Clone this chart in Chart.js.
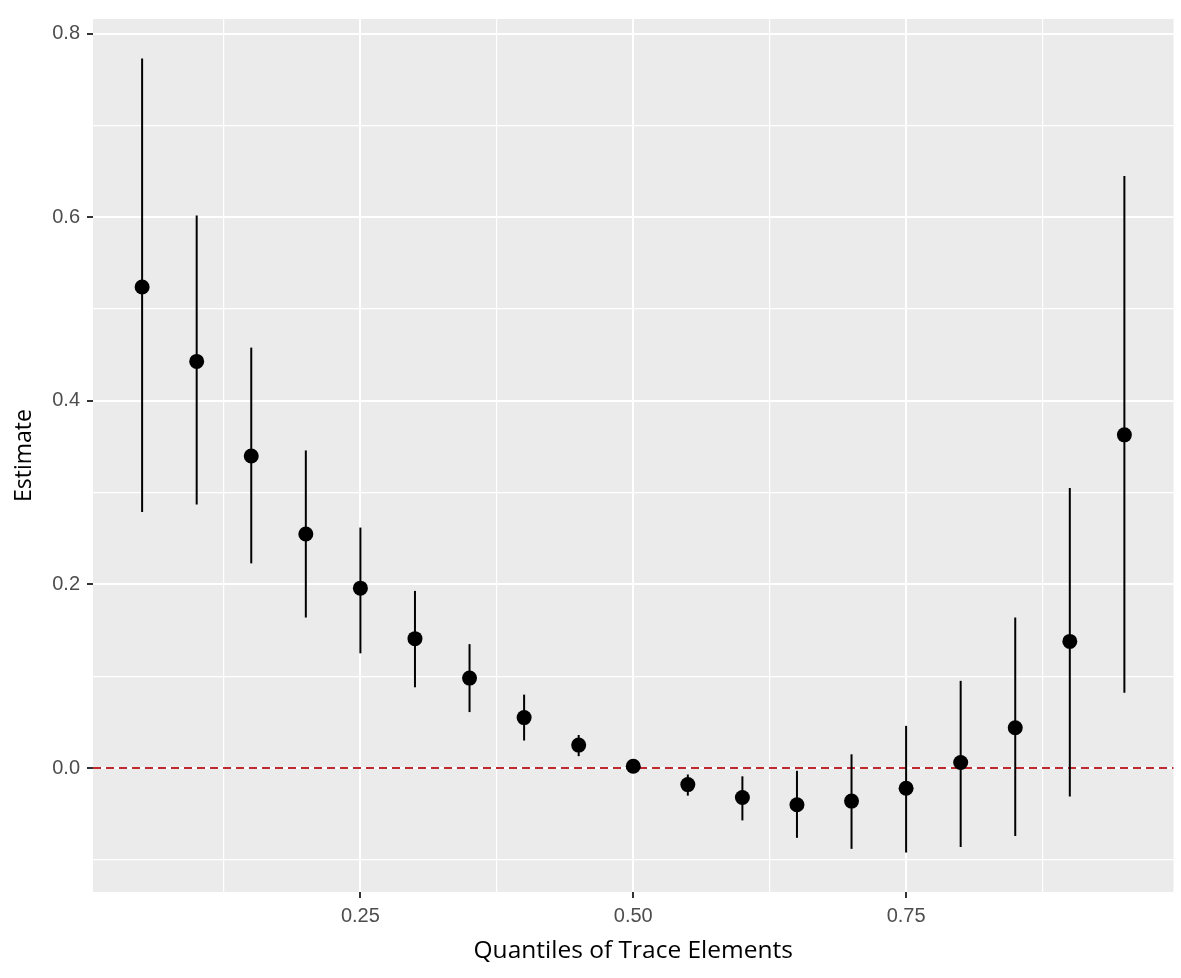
<!DOCTYPE html>
<html>
<head>
<meta charset="utf-8">
<script src="https://cdn.jsdelivr.net/npm/chart.js@4/dist/chart.umd.min.js"></script>
<style>
  body { margin: 0; background: #fff; }
  canvas { display: block; }
</style>
</head>
<body>
<canvas id="chart" width="1181" height="978"></canvas>
<script>
// quantile positions on the x axis
const quantiles = [0.05, 0.10, 0.15, 0.20, 0.25, 0.30, 0.35, 0.40, 0.45, 0.50,
                   0.55, 0.60, 0.65, 0.70, 0.75, 0.80, 0.85, 0.90, 0.95];
// point estimates
const estimate = [0.524, 0.443, 0.340, 0.255, 0.196, 0.141, 0.098, 0.055, 0.025, 0.002,
                  -0.018, -0.032, -0.040, -0.036, -0.022, 0.006, 0.044, 0.138, 0.363];
// confidence interval bounds
const lower = [0.279, 0.287, 0.223, 0.164, 0.125, 0.088, 0.061, 0.030, 0.013, -0.005,
               -0.030, -0.057, -0.076, -0.088, -0.092, -0.086, -0.074, -0.031, 0.082];
const upper = [0.773, 0.602, 0.458, 0.346, 0.262, 0.193, 0.135, 0.080, 0.036, 0.007,
               -0.007, -0.009, -0.003, 0.015, 0.046, 0.095, 0.164, 0.305, 0.645];

// axis ticks (major ones get labels, the rest are minor grid lines)
const xTicks = [0.125, 0.25, 0.375, 0.50, 0.625, 0.75, 0.875];
const xLabels = [0.25, 0.50, 0.75];
const yTicks = [-0.1, 0.0, 0.1, 0.2, 0.3, 0.4, 0.5, 0.6, 0.7, 0.8];
const yLabels = [0.0, 0.2, 0.4, 0.6, 0.8];
const refLine = 0;

const isMajor = (list, v) => list.some(m => Math.abs(m - v) < 1e-9);

// 灰色面板背景
const panelBg = {
  id: 'panelBg',
  beforeDraw(chart) {
    const { ctx, chartArea: a } = chart;
    ctx.save();
    ctx.fillStyle = '#EBEBEB';
    ctx.fillRect(a.left, a.top, a.right - a.left, a.bottom - a.top);
    ctx.restore();
  }
};

// 零线 + 误差线
const errorBars = {
  id: 'errorBars',
  beforeDatasetsDraw(chart) {
    const { ctx, chartArea: a, scales: { x, y } } = chart;
    ctx.save();
    // red dashed reference line
    const y0 = y.getPixelForValue(refLine);
    ctx.strokeStyle = '#BE2A30';
    ctx.lineWidth = 2;
    ctx.setLineDash([8, 5]);
    ctx.beginPath();
    ctx.moveTo(a.left, y0);
    ctx.lineTo(a.right, y0);
    ctx.stroke();
    // vertical intervals
    ctx.setLineDash([]);
    ctx.strokeStyle = '#000';
    ctx.lineWidth = 2;
    quantiles.forEach((q, i) => {
      const px = x.getPixelForValue(q);
      ctx.beginPath();
      ctx.moveTo(px, y.getPixelForValue(lower[i]));
      ctx.lineTo(px, y.getPixelForValue(upper[i]));
      ctx.stroke();
    });
    ctx.restore();
  }
};

const ctx = document.getElementById('chart').getContext('2d');
const chart = new Chart(ctx, {
  type: 'scatter',
  data: {
    datasets: [{
      data: quantiles.map((q, i) => ({ x: q, y: estimate[i] })),
      backgroundColor: '#000',
      borderColor: '#000',
      pointRadius: 7.5,
      pointHoverRadius: 7.5,
      borderWidth: 0
    }]
  },
  options: {
    responsive: false,
    animation: false,
    layout: { padding: { left: 0, right: 6, top: 18, bottom: 0 } },
    plugins: {
      legend: { display: false },
      tooltip: { enabled: false }
    },
    scales: {
      x: {
        type: 'linear',
        min: 0.005,
        max: 0.995,
        afterBuildTicks: s => { s.ticks = xTicks.map(v => ({ value: v })); },
        afterFit: s => { s.height = 86; },
        border: { display: false },
        grid: {
          color: '#FFFFFF',
          lineWidth: c => isMajor(xLabels, c.tick.value) ? 2 : 1.2,
          tickColor: c => isMajor(xLabels, c.tick.value) ? '#333333' : 'rgba(0,0,0,0)',
          tickWidth: 2,
          tickLength: 6
        },
        ticks: {
          autoSkip: false,
          maxRotation: 0,
          padding: 6,
          color: '#4D4D4D',
          font: { family: 'Liberation Sans, Arial', size: 20 },
          callback: v => isMajor(xLabels, v) ? v.toFixed(2) : ''
        },
        title: {
          display: true,
          text: 'Quantiles of Trace Elements',
          color: '#000',
          font: { family: 'Open Sans', size: 24.5 },
          padding: { top: 0, bottom: 12 }
        }
      },
      y: {
        type: 'linear',
        min: -0.135,
        max: 0.816,
        afterBuildTicks: s => { s.ticks = yTicks.map(v => ({ value: v })); },
        afterFit: s => { s.width = 93; },
        border: { display: false },
        grid: {
          color: '#FFFFFF',
          lineWidth: c => isMajor(yLabels, c.tick.value) ? 2 : 1.2,
          tickColor: c => isMajor(yLabels, c.tick.value) ? '#333333' : 'rgba(0,0,0,0)',
          tickWidth: 2,
          tickLength: 6
        },
        ticks: {
          autoSkip: false,
          padding: 7,
          color: '#4D4D4D',
          font: { family: 'Liberation Sans, Arial', size: 20 },
          callback: v => isMajor(yLabels, v) ? v.toFixed(1) : ''
        },
        title: {
          display: true,
          text: 'Estimate',
          color: '#000',
          font: { family: 'Open Sans', size: 23 },
          padding: { top: 11, bottom: 0 }
        }
      }
    }
  },
  plugins: [panelBg, errorBars]
});
</script>
</body>
</html>
